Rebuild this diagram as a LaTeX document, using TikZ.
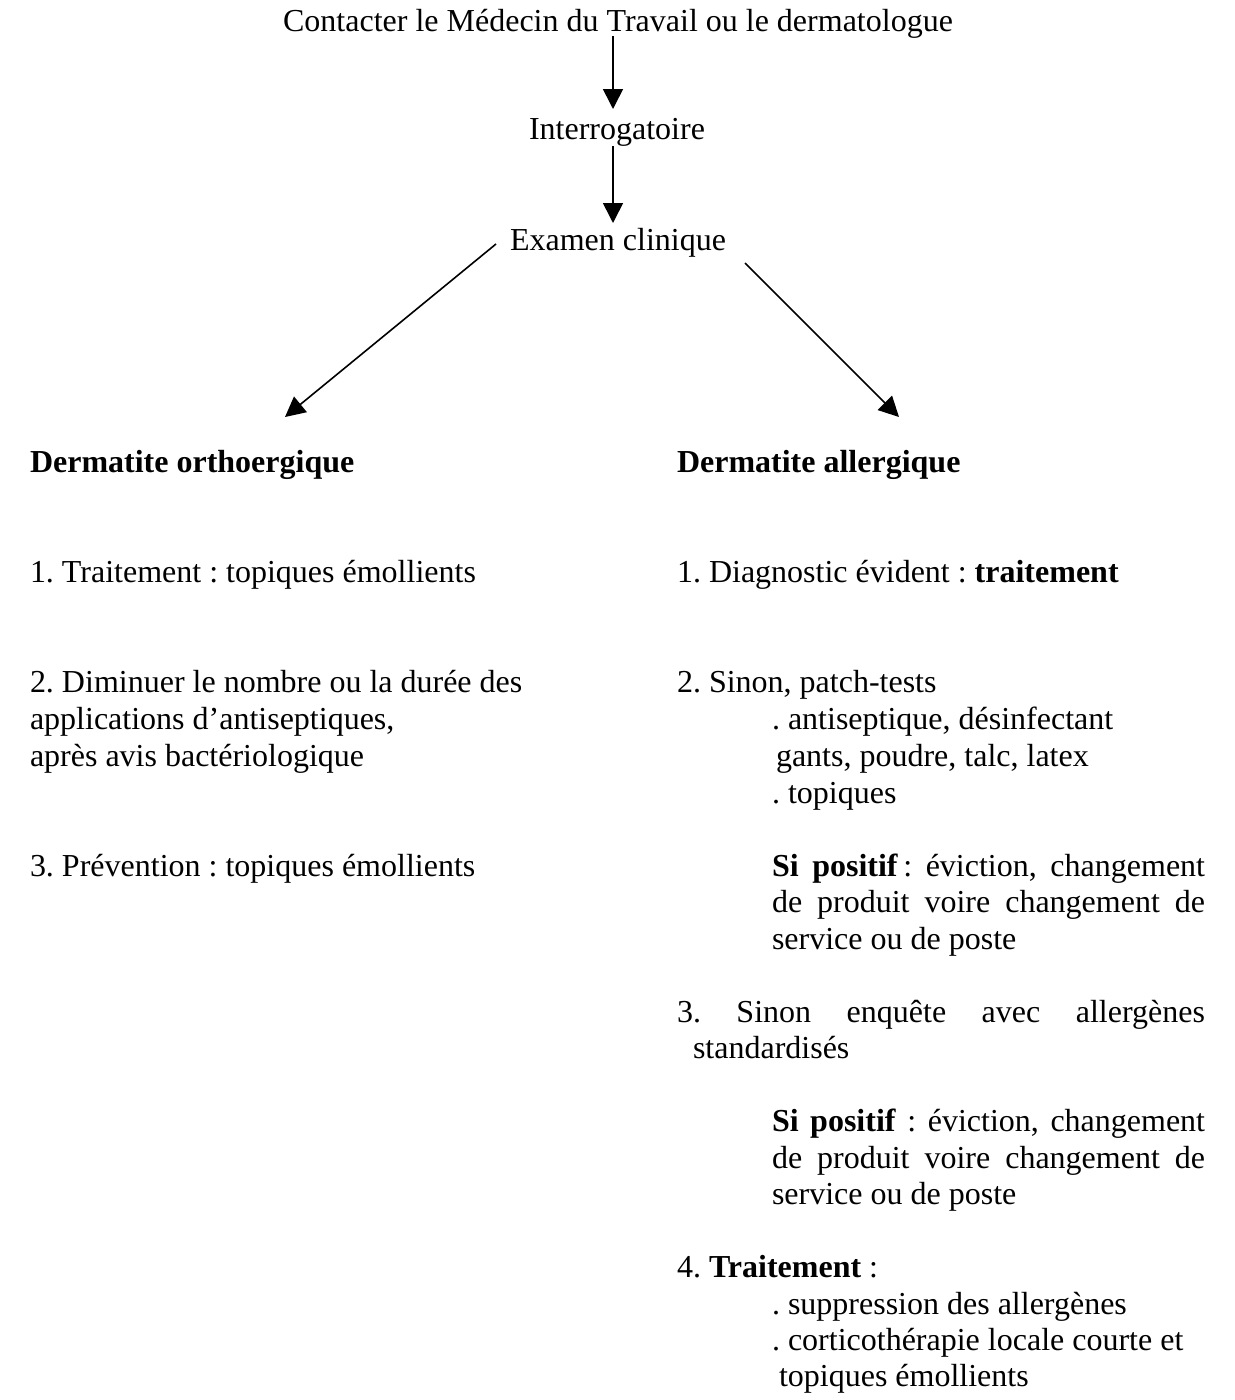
\documentclass[tikz,border=0pt]{standalone}
\usepackage{fontspec}
\setmainfont{Liberation Serif}
\usetikzlibrary{arrows.meta}
\begin{document}
\frenchspacing
\begin{tikzpicture}[x=0.375pt,y=-0.375pt,
  txt/.style={inner sep=0pt, outer sep=0pt, font=\fontsize{12}{13.8}\selectfont},
  lbl/.style={txt, anchor=base west},
  ctr/.style={txt, anchor=base},
  arr/.style={line width=0.6pt, -{Triangle[length=7.5pt,width=7.5pt]}}]
\useasboundingbox (0,0) rectangle (1235,1400);
% top chain
\node[ctr] (title) at (618,31) {Contacter le Médecin du Travail ou le dermatologue};
\node[ctr] (interro) at (617,139) {Interrogatoire};
\node[ctr] (examen) at (618,250) {Examen clinique};
\coordinate (a1s) at (613,36);
\coordinate (a1e) at (613,109);
\coordinate (a2s) at (613,146);
\coordinate (a2e) at (613,223);
\coordinate (dls) at (496,244);
\coordinate (dle) at (285,417);
\coordinate (drs) at (745,263);
\coordinate (dre) at (899,417);
\draw[arr] (a1s) -- (a1e);
\draw[arr] (a2s) -- (a2e);
\draw[arr] (dls) -- (dle);
\draw[arr] (drs) -- (dre);
% left column
\node[lbl] (hL) at (30,472) {\bfseries Dermatite orthoergique};
\node[lbl] (l1) at (30,582) {1. Traitement : topiques émollients};
\node[lbl] (l2a) at (30,692) {2. Diminuer le nombre ou la durée des};
\node[lbl] (l2b) at (30,729) {applications d’antiseptiques,};
\node[lbl] (l2c) at (30,766) {après avis bactériologique};
\node[lbl] (l3) at (30,876) {3. Prévention : topiques émollients};
% right column
\node[lbl] (hR) at (677,472) {\bfseries Dermatite allergique};
\node[lbl] (r1) at (677,582) {1. Diagnostic évident : \textbf{traitement}};
\node[lbl] (r2) at (677,692) {2. Sinon, patch-tests};
\node[lbl] (r2a) at (772,729) {. antiseptique, désinfectant};
\node[lbl] (r2b) at (776,766) {gants, poudre, talc, latex};
\node[lbl] (r2c) at (772,803) {. topiques};
\node[lbl] (r2d) at (772,876) {\makebox[162.4pt][s]{\textbf{Si positif}\,: éviction, changement}};
\node[lbl] (r2e) at (772,912) {\makebox[162.4pt][s]{de produit voire changement de}};
\node[lbl] (r2f) at (772,949) {service ou de poste};
\node[lbl] (r3a) at (677,1022) {\makebox[198pt][s]{3. Sinon enquête avec allergènes}};
\node[lbl] (r3b) at (693,1058) {standardisés};
\node[lbl] (r3c) at (772,1131) {\makebox[162.4pt][s]{\textbf{Si positif} : éviction, changement}};
\node[lbl] (r3d) at (772,1168) {\makebox[162.4pt][s]{de produit voire changement de}};
\node[lbl] (r3e) at (772,1204) {service ou de poste};
\node[lbl] (r4) at (677,1277) {4. \textbf{Traitement} :};
\node[lbl] (r4a) at (772,1314) {. suppression des allergènes};
\node[lbl] (r4b) at (772,1350) {. corticothérapie locale courte et};
\node[lbl] (r4c) at (779,1386) {topiques émollients};
\end{tikzpicture}
\end{document}
